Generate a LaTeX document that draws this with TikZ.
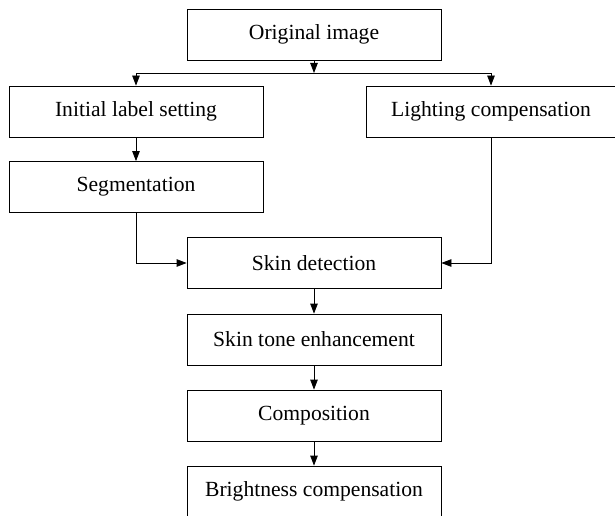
\documentclass[tikz,border=0pt]{standalone}
\usepackage{fontspec}
\setmainfont{Liberation Serif}
\usetikzlibrary{arrows.meta}
\def\boxwidth{254pt}
\def\boxheight{51pt}
\tikzset{
  stage/.style={draw, line width=0.8pt, minimum width=\boxwidth, minimum height=\boxheight,
    inner sep=0pt, font=\fontsize{21.6}{26}\selectfont},
  flow/.style={line width=0.8pt, -{Triangle[length=10pt,width=7.5pt]}}
}

\begin{document}
\begin{tikzpicture}[x=1pt, y=1pt]
      \useasboundingbox (0,0) rectangle (615,-516);

      % Boxes
      \begin{scope}
        \node[stage] (orig) at (314,-34.5) {Original image};

        % left branch
        \node[stage] (init) at (136,-111.5) {Initial label setting};
        \node[stage] (seg) at (136,-187) {Segmentation};

        % right branch
        \node[stage, minimum width=250pt] (light) at (491,-111.5) {Lighting compensation};

        % main line
        \node[stage] (skin) at (314,-263) {Skin detection};
        \node[stage] (tone) at (314,-339.5) {Skin tone enhancement};
        \node[stage] (comp) at (314,-415.5) {Composition};
        \node[stage] (bright) at (314,-491.5) {Brightness compensation};
      \end{scope}

      % Arrows
      \coordinate (branch) at (314,-73);
      \draw[flow] (orig) -- (branch);
      \draw[flow] (branch) -| (init.north);
      \draw[flow] (branch) -| (light.north);
      \draw[flow] (init) -- (seg);
      \draw[flow] (seg.south) |- (skin.west);
      \draw[flow] (light.south) |- (skin.east);
      \draw[flow] (skin) -- (tone);
      \draw[flow] (tone) -- (comp);
      \draw[flow] (comp) -- (bright);

\end{tikzpicture}
\end{document}
